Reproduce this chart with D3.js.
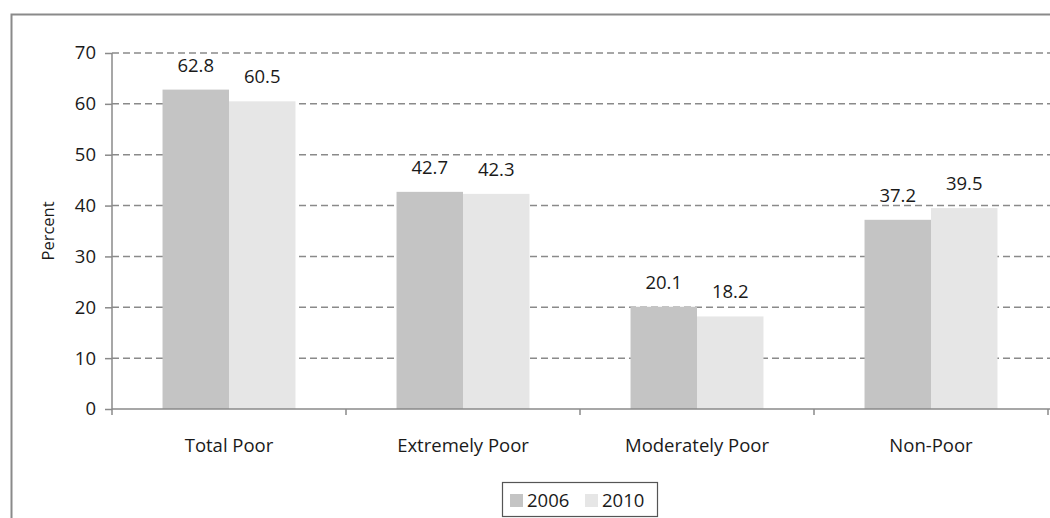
<!DOCTYPE html>
<html><head><meta charset="utf-8">
<script src="https://cdn.jsdelivr.net/npm/d3@7"></script>
<style>body{margin:0;background:#fff}svg{display:block}text{font-family:"Open Sans",sans-serif;fill:#1a1a1a}</style>
</head><body>
<svg id="c" width="1050" height="518"></svg>
<script>
const categories = ["Total Poor","Extremely Poor","Moderately Poor","Non-Poor"];
const seriesNames = ["2006","2010"];
const values2006 = [62.8, 42.7, 20.1, 37.2];
const values2010 = [60.5, 42.3, 18.2, 39.5];
const yTicks = [0,10,20,30,40,50,60,70];
const colors = ["#c4c4c4","#e6e6e6"];

const FS = 18.5;
const svg = d3.select("#c");
const m = {l:112, r:1048, t:53, b:409};
// outer frame
svg.append("path").attr("d","M11.5,600 V14.5 H1100").attr("fill","none").attr("stroke","#8a8a8a").attr("stroke-width",2);

const x = d3.scaleBand().domain(categories).range([m.l,m.r]).paddingInner(0).paddingOuter(0);
const xs = d3.scaleBand().domain(seriesNames).range([0,x.bandwidth()]).paddingInner(0).paddingOuter(0.76);
const y = d3.scaleLinear().domain([0,70]).range([m.b,m.t]);

// gridlines
svg.append("g").selectAll("line").data(yTicks.filter(d=>d>0)).join("line")
  .attr("x1",m.l).attr("x2",1050).attr("y1",d=>y(d)).attr("y2",d=>y(d))
  .attr("stroke","#8a8a8a").attr("stroke-width",1.5).attr("stroke-dasharray","7,4");

const data = categories.map((c,i)=>({c, vals:[values2006[i],values2010[i]]}));
const g = svg.append("g");
data.forEach(d=>{
  d.vals.forEach((v,j)=>{
    g.append("rect").attr("x",x(d.c)+xs(seriesNames[j])).attr("width",xs.bandwidth())
      .attr("y",y(v)).attr("height",y(0)-y(v)).attr("fill",colors[j]);
    g.append("text").attr("x",x(d.c)+xs(seriesNames[j])+xs.bandwidth()/2).attr("y",y(v)-18)
      .attr("text-anchor","middle").attr("font-size",FS).text(v.toFixed(1));
  });
});

// y axis
const ya = svg.append("g").attr("transform",`translate(${m.l},0)`)
  .call(d3.axisLeft(y).tickValues(yTicks).tickSize(7).tickPadding(9));
ya.select(".domain").attr("d",`M0,${m.b+6}V${m.t}`).attr("stroke","#8a8a8a").attr("stroke-width",1.5);
ya.selectAll(".tick line").attr("stroke","#8a8a8a").attr("stroke-width",1.5);
ya.selectAll(".tick text").attr("font-size",FS).attr("font-family","Open Sans").attr("fill","#1a1a1a");

// x axis
const xa = svg.append("g").attr("transform",`translate(0,${m.b})`);
xa.append("line").attr("x1",m.l).attr("x2",1050).attr("stroke","#8a8a8a").attr("stroke-width",1.5);
xa.selectAll("line.t").data(categories).join("line").attr("class","t")
  .attr("x1",d=>x(d)+x.bandwidth()).attr("x2",d=>x(d)+x.bandwidth()).attr("y1",0).attr("y2",6)
  .attr("stroke","#8a8a8a").attr("stroke-width",1.5);
xa.selectAll("text").data(categories).join("text")
  .attr("x",d=>x(d)+x.bandwidth()/2).attr("y",43).attr("text-anchor","middle").attr("font-size",FS).text(d=>d);

// y label
svg.append("text").attr("transform","translate(54,231) rotate(-90)").attr("text-anchor","middle")
  .attr("font-size",16.5).text("Percent");

// legend
const lg = svg.append("g");
lg.append("rect").attr("x",502.5).attr("y",482.5).attr("width",155).attr("height",34)
  .attr("fill","#fff").attr("stroke","#555").attr("stroke-width",1.2);
seriesNames.forEach((s,i)=>{
  const lx = 510 + i*75;
  lg.append("rect").attr("x",lx).attr("y",494).attr("width",13).attr("height",13).attr("fill",colors[i]);
  lg.append("text").attr("x",lx+17).attr("y",507).attr("font-size",FS).text(s);
});
</script>
</body></html>
